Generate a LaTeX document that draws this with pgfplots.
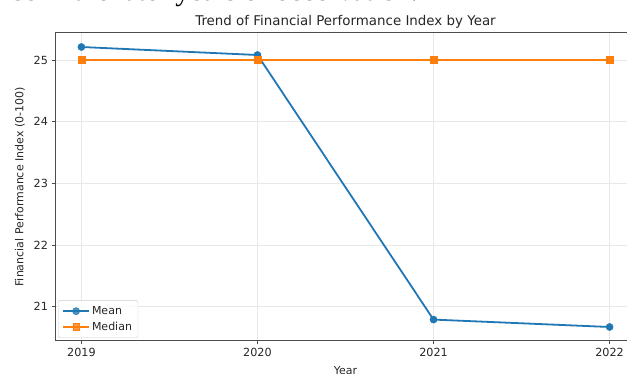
\documentclass[border=0pt]{standalone}
\usepackage{pgfplots}
\pgfplotsset{compat=1.18}
\usepackage{fontspec}
\setmainfont{DejaVu Sans}
\newfontfamily\seriffont{Liberation Serif}
\definecolor{mplblue}{HTML}{1F77B4}
\definecolor{mplorange}{HTML}{FF7F0E}

\begin{document}
\begin{tikzpicture}[x=1pt,y=1pt]
\useasboundingbox (0,0) rectangle (627,374);
\clip (0,0) rectangle (627,374);
% tail of the running text above the figure
\node[anchor=base east, font=\seriffont\fontsize{29}{32}\selectfont, inner sep=0pt] at (418,373.2) {se in the later years of observation.};
\begin{axis}[
  at={(55pt,33pt)}, anchor=south west,
  scale only axis, width=581pt, height=308pt,
  xmin=2018.85, xmax=2022.15, ymin=20.443, ymax=25.437,
  xtick={2019,2020,2021,2022}, ytick={21,22,23,24,25},
  /pgf/number format/assume math mode=true,
  x tick label style={/pgf/number format/1000 sep={}},
  tick label style={font=\fontsize{11.2}{13}\selectfont, text=black!85},
  label style={font=\fontsize{11}{13}\selectfont, text=black!85},
  tick pos=left, tick align=outside, major tick length=3.5pt,
  tick style={black!70, line width=0.8pt},
  axis line style={black!70, line width=1pt},
  grid=major, major grid style={black!9, line width=0.8pt},
  title={Trend of Financial Performance Index by Year},
  % the default title style already shifts it up by 6pt
  title style={at={(axis description cs:0.5,1)}, anchor=base, yshift=1.5pt,
    font=\fontsize{13.4}{15}\selectfont, text=black!85},
  xlabel={Year},
  xlabel style={at={(axis description cs:0.5,0)}, anchor=north, yshift=-22pt},
  ylabel={Financial Performance Index (0-100)},
  ylabel style={at={(axis description cs:-0.0602,0.5)}, anchor=center},
  legend cell align=left,
  legend style={at={(0,0)}, anchor=south west, xshift=3pt, yshift=3pt,
    draw=black!20, fill=white, fill opacity=0.8, text opacity=1, draw opacity=1,
    rounded corners=2pt, font=\fontsize{11}{13}\selectfont, row sep=2pt,
    inner sep=4pt, text=black!85},
  legend image code/.code={\draw[mark repeat=2,mark phase=2]
    plot coordinates {(0pt,0pt)(13pt,0pt)(26pt,0pt)};},
]
\addplot[mplblue, line width=1.8pt, mark=*, mark size=3.6pt,
  mark options={line width=0.4pt}]
  coordinates {(2019,25.21) (2020,25.08) (2021,20.79) (2022,20.67)};
\addlegendentry{Mean}
\addplot[mplorange, line width=1.8pt, mark=square*, mark size=3.4pt,
  mark options={line width=0.4pt}]
  coordinates {(2019,25) (2020,25) (2021,25) (2022,25)};
\addlegendentry{Median}
\end{axis}
\end{tikzpicture}
\end{document}
